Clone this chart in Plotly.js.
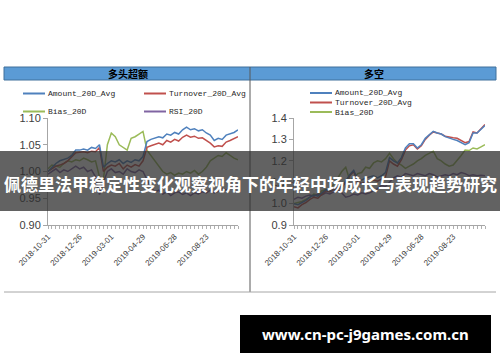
<!DOCTYPE html>
<html><head><meta charset="utf-8">
<script src="https://cdn.plot.ly/plotly-3.0.1.min.js"></script>
<style>html,body{margin:0;padding:0;background:#fff;}#chart{width:500px;height:362px;}</style>
</head><body><div id="chart"></div>
<script>
// ---- data ----
const dateLabels = ['2018-10-31','2018-12-26','2019-03-01','2019-04-29','2019-06-28','2019-08-23'];
const labelIdx = [0,8,16,24,32,40];
const idx = [0,1,2,3,4,5,6,7,8,9,10,11,12,13,14,15,16,17,18,19,20,21,22,23,24,25,26,27,28,29,30,31,32,33,34,35,36,37,38,39,40,41,42,43,44,45,46,47,48];
const seriesNames = ['Amount_20D_Avg','Turnover_20D_Avg','Bias_20D','RSI_20D'];
const panelTitles = ['多头超额','多空'];
const mainTitle = '佩德里法甲稳定性变化观察视角下的年轻中场成长与表现趋势研究';
const watermark = 'www.cn-pc-j9games.com.cn';

// left panel: 多头超额
const L_amount = [1.000,1.008,1.015,1.020,1.022,1.025,1.030,1.040,1.040,1.042,1.040,1.045,1.043,1.050,1.008,1.015,1.020,1.018,1.022,1.015,1.020,1.017,1.022,1.020,1.028,1.056,1.060,1.062,1.065,1.063,1.070,1.068,1.073,1.070,1.078,1.083,1.078,1.080,1.076,1.078,1.072,1.068,1.058,1.062,1.060,1.068,1.070,1.073,1.078];
const L_turnover = [1.000,1.005,1.010,1.012,1.015,1.020,1.028,1.035,1.036,1.037,1.035,1.038,1.037,1.045,1.000,1.008,1.012,1.010,1.015,1.005,1.012,1.008,1.013,1.010,1.020,1.045,1.048,1.050,1.053,1.050,1.058,1.055,1.060,1.057,1.064,1.068,1.064,1.066,1.062,1.063,1.058,1.053,1.046,1.048,1.047,1.055,1.058,1.062,1.065];
const L_bias = [1.005,1.012,1.010,1.008,1.015,1.020,1.018,1.022,1.020,1.025,1.022,1.018,1.020,0.990,0.985,1.050,1.072,1.065,1.050,1.045,1.040,1.062,1.065,1.070,1.075,1.040,1.030,1.020,1.010,1.000,0.995,0.998,0.993,0.997,0.995,1.000,0.997,1.002,0.995,1.000,1.008,1.020,1.025,1.030,1.028,1.035,1.030,1.025,1.022];
const L_rsi = [0.995,1.000,1.005,0.998,1.003,1.000,1.005,1.010,1.005,1.008,1.000,1.003,0.990,0.957,0.980,1.000,1.005,0.998,1.000,0.995,1.005,1.000,0.998,1.003,1.000,0.985,0.970,0.962,0.965,0.958,0.962,0.955,0.960,0.962,0.957,0.960,0.955,0.960,0.958,0.962,0.960,0.965,0.960,0.963,0.968,0.965,0.970,0.968,0.972];

// right panel: 多空
const R_amount = [1.000,0.995,1.005,1.015,1.030,1.040,1.035,1.050,1.065,1.060,1.070,1.075,1.080,1.105,1.135,1.155,1.115,1.110,1.120,1.125,1.130,1.120,1.130,1.145,1.215,1.200,1.190,1.215,1.260,1.280,1.280,1.260,1.275,1.305,1.322,1.338,1.330,1.325,1.313,1.305,1.300,1.295,1.285,1.275,1.285,1.330,1.330,1.350,1.365];
const R_turnover = [0.985,0.980,0.995,1.005,1.020,1.030,1.025,1.045,1.060,1.055,1.065,1.070,1.075,1.100,1.130,1.150,1.100,1.095,1.100,1.105,1.110,1.105,1.115,1.125,1.200,1.185,1.175,1.205,1.250,1.270,1.275,1.255,1.270,1.300,1.320,1.335,1.330,1.325,1.315,1.310,1.308,1.305,1.295,1.285,1.290,1.335,1.330,1.350,1.370];
const R_bias = [1.000,1.005,1.010,1.020,1.030,1.045,1.040,1.060,1.065,1.070,1.090,1.120,1.150,1.170,1.110,1.120,1.140,1.145,1.170,1.165,1.190,1.200,1.195,1.210,1.235,1.210,1.190,1.180,1.165,1.175,1.185,1.200,1.210,1.225,1.235,1.245,1.210,1.200,1.185,1.175,1.180,1.200,1.225,1.250,1.248,1.260,1.255,1.265,1.275];
const R_rsi = [1.020,1.030,1.025,1.035,1.040,1.035,1.045,1.040,1.050,1.045,1.055,1.065,1.050,1.030,1.035,1.045,1.040,1.050,1.045,1.050,1.060,1.070,1.085,1.080,1.100,1.120,1.130,1.125,1.140,1.135,1.130,1.140,1.135,1.130,1.140,1.135,1.125,1.130,1.135,1.130,1.140,1.135,1.145,1.140,1.130,1.135,1.130,1.132,1.130];

// ---- styles ----
const colors = ['#4F81BD','#C0504D','#9BBB59','#8064A2'];
const W = 500, H = 362;
const px = x => x / W;
const py = y => 1 - y / H;

function tr(y, ci, xa, ya){
  return {x: idx, y: y, type:'scatter', mode:'lines', xaxis: xa, yaxis: ya,
    line:{color: colors[ci], width:1.5}, name: seriesNames[ci], showlegend:false, hoverinfo:'skip'};
}
const traces = [
  tr(L_bias,2,'x','y'), tr(L_rsi,3,'x','y'), tr(L_turnover,1,'x','y'), tr(L_amount,0,'x','y'),
  tr(R_bias,2,'x2','y2'), tr(R_rsi,3,'x2','y2'), tr(R_turnover,1,'x2','y2'), tr(R_amount,0,'x2','y2')
];

const tickText = idx.map(i => { const k = labelIdx.indexOf(i); return k >= 0 ? dateLabels[k] : ''; });
const xBase = {range:[0,48], tickmode:'array', tickvals: idx, ticktext: tickText, tickangle:-45,
  ticks:'outside', ticklen:3, tickcolor:'#b0b0b0', showline:true, linecolor:'#a6a6a6', linewidth:1,
  showgrid:false, zeroline:false, tickfont:{family:'Liberation Sans, Arial', size:8, color:'#404040'}, fixedrange:true};
const yBase = {ticks:'outside', ticklen:4, tickcolor:'#a6a6a6', showline:true, linecolor:'#a6a6a6', linewidth:1,
  showgrid:false, zeroline:false, tickfont:{family:'Liberation Sans, Arial', size:11, color:'#404040'}, fixedrange:true};
const yDom = [py(225), py(118)];

const shapes = [];
const annotations = [];
// header bar
shapes.push({type:'rect', xref:'paper', yref:'paper', x0:px(4), x1:px(496), y0:py(80), y1:py(67), fillcolor:'#5B9BD5', line:{color:'#41719C', width:1}, layer:'below'});
// divider and bottom line
shapes.push({type:'line', xref:'paper', yref:'paper', x0:px(250), x1:px(250), y0:py(292), y1:py(67), line:{color:'#595959', width:1}, layer:'below'});
shapes.push({type:'line', xref:'paper', yref:'paper', x0:px(4), x1:px(496), y0:py(292), y1:py(292), line:{color:'#a6a6a6', width:1}, layer:'below'});
// panel titles
annotations.push({xref:'paper', yref:'paper', x:px(128), y:py(73.5), text:'<b>'+panelTitles[0]+'</b>', showarrow:false, font:{family:'Noto Sans CJK SC', size:10, color:'#000'}, xanchor:'center', yanchor:'middle'});
annotations.push({xref:'paper', yref:'paper', x:px(374), y:py(73.5), text:'<b>'+panelTitles[1]+'</b>', showarrow:false, font:{family:'Noto Sans CJK SC', size:10, color:'#000'}, xanchor:'center', yanchor:'middle'});

// legends (manual, matching Excel layout)
function legendItem(x, y, ci){
  shapes.push({type:'line', xref:'paper', yref:'paper', x0:px(x), x1:px(x+22), y0:py(y), y1:py(y), line:{color:colors[ci], width:2}});
  annotations.push({xref:'paper', yref:'paper', x:px(x+23), y:py(y), text:seriesNames[ci], showarrow:false, xanchor:'left', yanchor:'middle',
    font:{family:'Liberation Mono, DejaVu Sans Mono', size:8, color:'#262626'}});
}
legendItem(23, 93.5, 0); legendItem(144, 93.5, 1); legendItem(23, 111.5, 2); legendItem(144, 111.5, 3);
legendItem(310, 93, 0); legendItem(310, 102.5, 1); legendItem(310, 112, 2);

// overlay banner with title
shapes.push({type:'rect', xref:'paper', yref:'paper', x0:0, x1:1, y0:py(211), y1:py(151), fillcolor:'rgba(45,45,45,0.75)', line:{width:0}, layer:'above'});
annotations.push({xref:'paper', yref:'paper', x:0.5, y:py(183), text:'<b>'+mainTitle+'</b>', showarrow:false, xanchor:'center', yanchor:'middle',
  font:{family:'Noto Sans CJK SC', size:17, color:'#ffffff'}});
// watermark box
shapes.push({type:'rect', xref:'paper', yref:'paper', x0:px(240), x1:px(491), y0:py(353), y1:py(315), fillcolor:'#000000', line:{width:0}, layer:'above'});
annotations.push({xref:'paper', yref:'paper', x:px(365.5), y:py(334), text:'<b>'+watermark+'</b>', showarrow:false, xanchor:'center', yanchor:'middle',
  font:{family:'Noto Sans, Open Sans', size:15, color:'#ffffff'}});

const layout = {
  width: W, height: H, margin:{l:0, r:0, t:0, b:0}, paper_bgcolor:'#ffffff', plot_bgcolor:'rgba(0,0,0,0)',
  showlegend:false,
  xaxis: Object.assign({}, xBase, {domain:[px(48), px(238)], anchor:'y'}),
  yaxis: Object.assign({}, yBase, {domain:yDom, range:[0.90,1.10], tickmode:'array', tickvals:[0.90,0.95,1.00,1.05,1.10], tickformat:'.2f', anchor:'x'}),
  xaxis2: Object.assign({}, xBase, {domain:[px(294), px(485)], anchor:'y2'}),
  yaxis2: Object.assign({}, yBase, {domain:yDom, range:[0.9,1.4], tickmode:'array', tickvals:[0.9,1.0,1.1,1.2,1.3,1.4], tickformat:'.1f', anchor:'x2'}),
  shapes: shapes, annotations: annotations
};
Plotly.newPlot('chart', traces, layout, {staticPlot:true, displayModeBar:false});
</script></body></html>
